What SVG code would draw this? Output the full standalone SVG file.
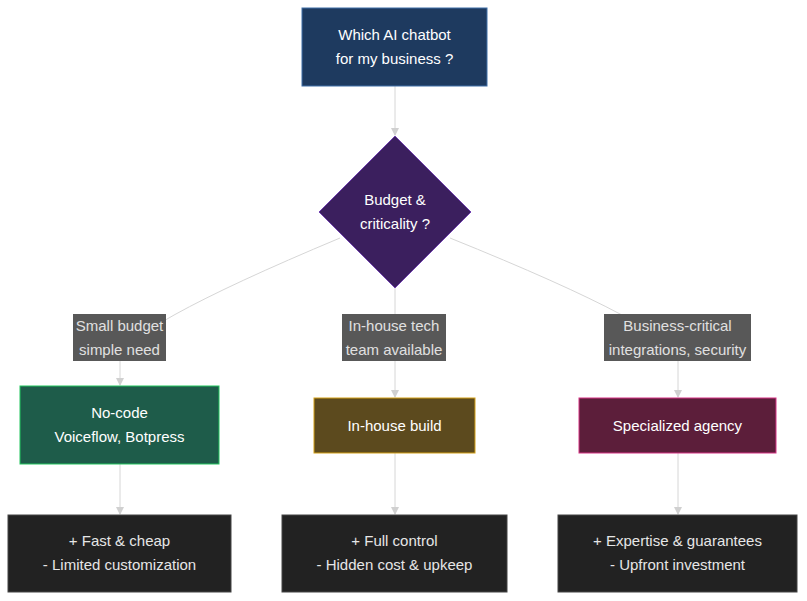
<svg xmlns="http://www.w3.org/2000/svg" width="807" height="601" viewBox="0 0 807 601">
<defs>
<marker id="ah" markerWidth="8" markerHeight="8" refX="7" refY="4" orient="auto" markerUnits="userSpaceOnUse"><path d="M0,0 L8,4 L0,8 z" fill="#d0d0d0"/></marker>
<style>
text{font-family:"Liberation Sans",Arial,sans-serif;font-size:15px;fill:#fff;text-anchor:middle}
.c{fill:none;stroke:#d6d6d6;stroke-width:1;marker-end:url(#ah)}
.lb{fill:#585858}
.lt{fill:#e0e0e0}
.out{fill:#222;stroke:#444}
.ot{fill:#e6e6e6}
</style>
</defs>
<rect width="807" height="601" fill="#fff"/>
<g id="connectors">
<path class="c" d="M395,86 V135"/>
<path class="c" d="M340,238 Q120,330 120,360 V385"/>
<path class="c" d="M395,288 V397"/>
<path class="c" d="M450,238 Q678,330 678,360 V397"/>
<path class="c" d="M120,464 V514"/>
<path class="c" d="M395,453 V514"/>
<path class="c" d="M678,453 V514"/>
</g>
<g id="labels">
<rect class="lb" x="73" y="314" width="93" height="47"/>
<text class="lt" x="119.5" y="331">Small budget</text><text class="lt" x="119.5" y="355">simple need</text>
<rect class="lb" x="342" y="314" width="104" height="47"/>
<text class="lt" x="394" y="331">In-house tech</text><text class="lt" x="394" y="355">team available</text>
<rect class="lb" x="604" y="314" width="147" height="47"/>
<text class="lt" x="677.5" y="331">Business-critical</text><text class="lt" x="677.5" y="355">integrations, security</text>
</g>
<g id="start"><rect x="302" y="8" width="185" height="78" fill="#1e3a5f" stroke="#3f6fa8"/>
<text x="394.5" y="40">Which AI chatbot</text><text x="394.5" y="64">for my business ?</text></g>
<g id="decision"><polygon points="395,136 471,212 395,288 319,212" fill="#3b1f5e" stroke="#7040b0"/>
<text x="395" y="205">Budget &amp;</text><text x="395" y="229">criticality ?</text></g>
<g id="nocode"><rect x="20" y="386" width="199" height="78" fill="#1e5c4a" stroke="#22c55e"/>
<text x="119.5" y="418">No-code</text><text x="119.5" y="442">Voiceflow, Botpress</text></g>
<g id="inhouse"><rect x="314" y="398" width="161" height="55" fill="#5c4a1e" stroke="#d4a017"/>
<text x="394.5" y="431">In-house build</text></g>
<g id="agency"><rect x="579" y="398" width="197" height="55" fill="#5c1e3a" stroke="#d63384"/>
<text x="677.5" y="431">Specialized agency</text></g>
<g id="out1"><rect class="out" x="8" y="515" width="223" height="77"/>
<text class="ot" x="119.5" y="546">+ Fast &amp; cheap</text><text class="ot" x="119.5" y="570">- Limited customization</text></g>
<g id="out2"><rect class="out" x="282" y="515" width="225" height="77"/>
<text class="ot" x="394.5" y="546">+ Full control</text><text class="ot" x="394.5" y="570">- Hidden cost &amp; upkeep</text></g>
<g id="out3"><rect class="out" x="558" y="515" width="239" height="77"/>
<text class="ot" x="677.5" y="546">+ Expertise &amp; guarantees</text><text class="ot" x="677.5" y="570">- Upfront investment</text></g>
</svg>
